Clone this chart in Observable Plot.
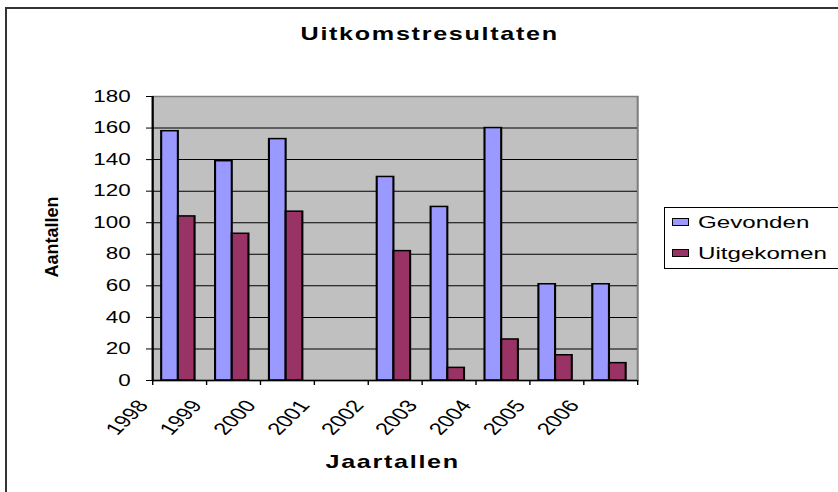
<!DOCTYPE html>
<html>
<head>
<meta charset="utf-8">
<script src="https://cdn.jsdelivr.net/npm/d3@7"></script>
<script src="https://cdn.jsdelivr.net/npm/@observablehq/plot@0.6"></script>
<style>
  html, body { margin: 0; padding: 0; background: #fff; }
  #wrap { position: relative; width: 838px; height: 492px; overflow: hidden; font-family: "Liberation Sans", Arial, sans-serif; color: #000; }
  #wrap svg { position: absolute; left: 0; top: 0; }
  #border { position: absolute; left: 5px; top: 7px; width: 900px; height: 600px; border-top: 2px solid #333; border-left: 2px solid #333; pointer-events: none; }
  #ylabel { position: absolute; left: 52px; top: 237px; transform: translate(-50%, -50%) rotate(-90deg); font-weight: bold; font-size: 18px; white-space: nowrap; }
  #legend { position: absolute; left: 664px; top: 207px; width: 200px; height: 62px; border: 1px solid #000; background: #fff; box-sizing: border-box; }
  .sw { position: absolute; left: 7px; width: 15px; height: 6px; border: 1.5px solid #000; }
  .lt { position: absolute; left: 33px; font-size: 17px; line-height: 17px; white-space: nowrap; transform: scaleX(1.42); transform-origin: 0 50%; }
</style>
</head>
<body>
<div id="wrap">
  <div id="border"></div>
  <div id="ylabel"></div>
  <div id="legend"></div>
</div>
<script>
// ---- data ----
const years = ["1998", "1999", "2000", "2001", "2002", "2003", "2004", "2005", "2006"];
const gevonden = [158, 139, 153, null, 129, 110, 160, 61, 61];
const uitgekomen = [104, 93, 107, null, 82, 8, 26, 16, 11];
const seriesNames = ["Gevonden", "Uitgekomen"];
const seriesColors = ["#9999FF", "#993366"];
const yTicks = [0, 20, 40, 60, 80, 100, 120, 140, 160, 180];
const chartTitle = "Uitkomstresultaten";
const xTitle = "Jaartallen";
const yTitle = "Aantallen";

// ---- layout ----
const S = 1.4;                 // horizontal stretch of the rendering (wide Excel-style text)
const W = 838 / S, H = 492;
const mL = 152 / S, mR = (838 - 637) / S, mT = 96, mB = 112;
const step = (W - mL - mR) / years.length;
const padL = 0.17 * step, barW = 0.31 * step;

const rowsG = years.map((y, i) => ({year: y, value: gevonden[i]})).filter(d => d.value != null);
const rowsU = years.map((y, i) => ({year: y, value: uitgekomen[i]})).filter(d => d.value != null);
const gridTicks = yTicks.filter(v => v > 0 && v < 180);

const svg = Plot.plot({
  width: W, height: H,
  marginLeft: mL, marginRight: mR, marginTop: mT, marginBottom: mB,
  style: {fontFamily: "'Liberation Sans', Arial, sans-serif", color: "#000", background: "transparent", overflow: "visible"},
  x: {type: "band", domain: years, padding: 0, round: false},
  y: {domain: [0, 180]},
  marks: [
    Plot.frame({fill: "#C0C0C0", stroke: "#808080", strokeWidth: 1.5}),
    Plot.gridY(gridTicks, {stroke: "#000", strokeOpacity: 1, strokeWidth: 1}),
    Plot.barY(rowsG, {x: "year", y: "value", fill: seriesColors[0], stroke: "#000", strokeWidth: 1.5,
      insetLeft: padL, insetRight: step - padL - barW}),
    Plot.barY(rowsU, {x: "year", y: "value", fill: seriesColors[1], stroke: "#000", strokeWidth: 1.5,
      insetLeft: padL + barW, insetRight: step - padL - 2 * barW}),
    Plot.ruleY([0], {stroke: "#000", strokeWidth: 1.5}),
    Plot.ruleX([years[0]], {dx: -step / 2, stroke: "#000", strokeWidth: 1.5}),
    Plot.axisY(yTicks, {tickSize: 6 / S, tickPadding: 11.5, fontSize: 16, label: null}),
    // tick marks at the category boundaries
    Plot.axisX({tickSize: 5, dx: -step / 2, fill: "none", label: null}),
    Plot.axisX([years[years.length - 1]], {tickSize: 5, dx: step / 2, fill: "none", label: null}),
    // rotated year labels
    Plot.axisX({tickSize: 0, tickPadding: 22, tickRotate: -53, dx: -step / 2 - 6.9, fontSize: 17, label: null}),
    Plot.text([chartTitle], {frameAnchor: "top", lineAnchor: "middle", dy: -62.5, dx: 24.6, fontWeight: "bold", fontSize: 18}),
    Plot.text([xTitle], {frameAnchor: "bottom", lineAnchor: "middle", dy: 82, dx: -1.8, fontWeight: "bold", fontSize: 18})
  ]
});

svg.setAttribute("viewBox", `0 0 ${W} ${H}`);
svg.setAttribute("width", 838);
svg.setAttribute("height", H);
svg.setAttribute("preserveAspectRatio", "none");
svg.style.width = "838px";
svg.style.height = H + "px";
svg.style.maxWidth = "none";
d3.select(svg).selectAll('g[aria-label="text"] text').attr("letter-spacing", 1.2);

const wrap = document.getElementById("wrap");
wrap.insertBefore(svg, wrap.firstChild);
document.getElementById("ylabel").textContent = yTitle;

const legend = document.getElementById("legend");
const rowCenters = [14, 45];
seriesNames.forEach((name, i) => {
  const sw = document.createElement("div");
  sw.className = "sw";
  sw.style.background = seriesColors[i];
  sw.style.top = (rowCenters[i] - 4.5) + "px";
  legend.appendChild(sw);
  const t = document.createElement("div");
  t.className = "lt";
  t.textContent = name;
  t.style.top = (rowCenters[i] - 8.5) + "px";
  legend.appendChild(t);
});
</script>
</body>
</html>
